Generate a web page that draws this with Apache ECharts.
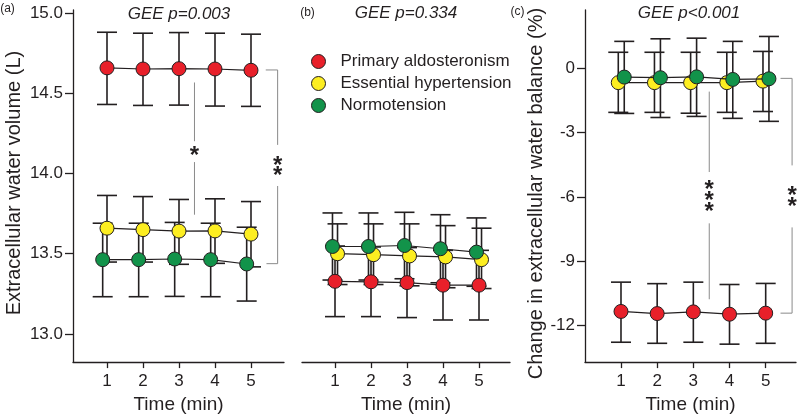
<!DOCTYPE html>
<html>
<head>
<meta charset="utf-8">
<script src="https://cdn.jsdelivr.net/npm/echarts@6/dist/echarts.min.js"></script>
<style>
html,body{margin:0;padding:0;background:#fff;}
#chart{width:800px;height:419px;}
</style>
</head>
<body>
<div id="chart"></div>
<script>
// ---------- data ----------
const times = [1, 2, 3, 4, 5];
const groupNames = ['Primary aldosteronism', 'Essential hypertension', 'Normotension'];
const groupColors = ['#e8202a', '#fdee21', '#12934a'];

// Panel (a): Extracellular water volume (L)
const paA_mean = [14.658, 14.651, 14.653, 14.651, 14.643];
const paA_low  = [14.430, 14.424, 14.426, 14.420, 14.418];
const paA_high = [14.880, 14.874, 14.878, 14.874, 14.868];
const ehA_mean = [13.659, 13.650, 13.641, 13.642, 13.622];
const ehA_low  = [13.448, 13.448, 13.434, 13.440, 13.418];
const ehA_high = [13.863, 13.856, 13.838, 13.842, 13.825];
const ntA_mean = [13.463, 13.463, 13.467, 13.463, 13.436];
const ntA_low  = [13.232, 13.232, 13.234, 13.232, 13.205];
const ntA_high = [13.690, 13.690, 13.695, 13.690, 13.665];

// Panel (b)
const paB_mean = [13.328, 13.325, 13.320, 13.304, 13.304];
const paB_low  = [13.108, 13.108, 13.102, 13.087, 13.087];
const paB_high = [13.548, 13.542, 13.538, 13.521, 13.521];
const ehB_mean = [13.500, 13.494, 13.486, 13.480, 13.463];
const ehB_low  = [13.308, 13.308, 13.300, 13.288, 13.283];
const ehB_high = [13.686, 13.686, 13.686, 13.675, 13.659];
const ntB_mean = [13.545, 13.545, 13.551, 13.531, 13.510];
const ntB_low  = [13.336, 13.336, 13.344, 13.319, 13.297];
const ntB_high = [13.754, 13.754, 13.758, 13.743, 13.723];

// Panel (c): Change in extracellular water balance (%)
const paC_mean = [-11.36, -11.46, -11.38, -11.49, -11.44];
const paC_low  = [-12.80, -12.85, -12.80, -12.89, -12.85];
const paC_high = [-9.99, -10.06, -9.99, -10.10, -10.05];
const ehC_mean = [-0.66, -0.66, -0.66, -0.66, -0.59];
const ehC_low  = [-2.05, -2.05, -2.09, -2.05, -2.01];
const ehC_high = [0.76, 0.76, 0.76, 0.76, 0.80];
const ntC_mean = [-0.40, -0.43, -0.39, -0.51, -0.48];
const ntC_low  = [-2.10, -2.29, -2.24, -2.33, -2.47];
const ntC_high = [1.27, 1.39, 1.42, 1.27, 1.50];

// small horizontal dodge of groups (time units)
const dodgeA = [0, 0, -0.12];
const dodgeB = [0, 0.07, -0.07];
const dodgeC = [0, -0.075, 0.09];

// tick labels
const yTicksA = [13.0, 13.5, 14.0, 14.5, 15.0];
const yTicksC = [0, -3, -6, -9, -12];

// significance annotations: segments [x1, y1, x2, y2] and stars [x, yCenter, count]
const sigLinesA = [
  [3.43, 14.567, 3.43, 14.201], [3.43, 14.071, 3.43, 13.743],
  [5.41, 14.645, 5.74, 14.645], [5.74, 14.645, 5.74, 14.178],
  [5.74, 13.922, 5.74, 13.438], [5.74, 13.438, 5.43, 13.438]
];
const sigStarsA = [[3.43, 14.140, 1], [5.74, 14.043, 2]];
const sigLinesC = [
  [3.44, -1.08, 3.44, -4.84], [3.44, -7.24, 3.44, -10.79],
  [5.41, -0.46, 5.73, -0.46], [5.73, -0.46, 5.73, -4.53],
  [5.73, -7.43, 5.73, -11.44], [5.73, -11.44, 5.41, -11.44]
];
const sigStarsC = [[3.44, -5.98, 3], [5.73, -5.98, 2]];

const panels = [
  { means: [paA_mean, ehA_mean, ntA_mean], lows: [paA_low, ehA_low, ntA_low], highs: [paA_high, ehA_high, ntA_high], dodge: dodgeA },
  { means: [paB_mean, ehB_mean, ntB_mean], lows: [paB_low, ehB_low, ntB_low], highs: [paB_high, ehB_high, ntB_high], dodge: dodgeB },
  { means: [paC_mean, ehC_mean, ntC_mean], lows: [paC_low, ehC_low, ntC_low], highs: [paC_high, ehC_high, ntC_high], dodge: dodgeC }
];

// ---------- styling ----------
const INK = '#231f20';
const FONT = '"Liberation Sans", Arial, sans-serif';

const chart = echarts.init(document.getElementById('chart'), null, { renderer: 'canvas' });

function xAxisDef(idx, min, max) {
  return {
    type: 'value', gridIndex: idx, min: min, max: max,
    name: 'Time (min)', nameLocation: 'middle', nameGap: 25,
    nameTextStyle: { fontSize: 19, color: INK, fontFamily: FONT },
    axisLine: { show: true, onZero: false, lineStyle: { color: INK, width: 1.3 } },
    axisTick: { show: true, length: 6, customValues: times, lineStyle: { color: INK, width: 1.3 } },
    axisLabel: { customValues: times, fontSize: 17, color: INK, fontFamily: FONT, margin: 11 },
    splitLine: { show: false }
  };
}

const grids = [
  { left: 73, top: 10, width: 211, height: 354 },
  { left: 302, top: 10, width: 208, height: 354 },
  { left: 585, top: 10, width: 211, height: 355 }
];

const xAxes = [
  xAxisDef(0, 0.0556, 5.9167),
  xAxisDef(1, 0.0833, 5.861),
  xAxisDef(2, 0.005, 5.838)
];

const yAxes = [
  {
    type: 'value', gridIndex: 0, min: 12.8246, max: 15.0186,
    name: 'Extracellular water volume (L)', nameLocation: 'middle', nameGap: 49,
    nameTextStyle: { fontSize: 20, color: INK, fontFamily: FONT, padding: [0, 0, 0, 6] },
    axisLine: { show: true, onZero: false, lineStyle: { color: INK, width: 1.3 } },
    axisTick: { show: true, length: 8, customValues: yTicksA, lineStyle: { color: INK, width: 1.3 } },
    axisLabel: { customValues: yTicksA, fontSize: 17, color: INK, fontFamily: FONT, margin: 10,
      formatter: v => Number(v).toFixed(1) },
    splitLine: { show: false }
  },
  {
    type: 'value', gridIndex: 1, min: 12.8246, max: 15.0186,
    axisLine: { show: false, onZero: false }, axisTick: { show: false }, axisLabel: { show: false }, splitLine: { show: false }
  },
  {
    type: 'value', gridIndex: 2, min: -13.729, max: 2.737,
    name: 'Change in extracellular water balance (%)', nameLocation: 'middle', nameGap: 36,
    nameTextStyle: { fontSize: 20, color: INK, fontFamily: FONT, padding: [0, 15, 0, 0] },
    axisLine: { show: true, onZero: false, lineStyle: { color: INK, width: 1.3 } },
    axisTick: { show: true, length: 8, customValues: yTicksC, lineStyle: { color: INK, width: 1.3 } },
    axisLabel: { customValues: yTicksC, fontSize: 17, color: INK, fontFamily: FONT, margin: 10,
      formatter: v => String(v) },
    splitLine: { show: false }
  }
];

function errorRender(params, api) {
  const x = api.value(0);
  const lo = api.coord([x, api.value(1)]);
  const hi = api.coord([x, api.value(2)]);
  const w = 10;
  const st = { stroke: INK, lineWidth: 1.6 };
  return {
    type: 'group',
    children: [
      { type: 'line', shape: { x1: lo[0], y1: lo[1], x2: hi[0], y2: hi[1] }, style: st },
      { type: 'line', shape: { x1: hi[0] - w, y1: hi[1], x2: hi[0] + w, y2: hi[1] }, style: st },
      { type: 'line', shape: { x1: lo[0] - w, y1: lo[1], x2: lo[0] + w, y2: lo[1] }, style: st }
    ]
  };
}

function segRender(params, api) {
  const a = api.coord([api.value(0), api.value(1)]);
  const b = api.coord([api.value(2), api.value(3)]);
  return { type: 'line', shape: { x1: a[0], y1: a[1], x2: b[0], y2: b[1] }, style: { stroke: '#8a8a8a', lineWidth: 1 } };
}

function starRender(spacing) {
  return function (params, api) {
    const c = api.coord([api.value(0), api.value(1)]);
    const n = api.value(2);
    const kids = [];
    for (let i = 0; i < n; i++) {
      const dy = (i - (n - 1) / 2) * spacing;
      kids.push({
        type: 'text', x: c[0], y: c[1] + dy + 5,
        style: { text: '*', fill: INK, font: 'bold 24px ' + FONT, textAlign: 'center', textVerticalAlign: 'middle' }
      });
    }
    return { type: 'group', children: kids };
  };
}

const series = [];
panels.forEach((p, pi) => {
  [0, 1, 2].forEach(g => {
    series.push({
      type: 'custom', xAxisIndex: pi, yAxisIndex: pi, z: 1, silent: true,
      renderItem: errorRender,
      encode: { x: 0, y: [1, 2] },
      data: times.map((t, i) => [t + p.dodge[g], p.lows[g][i], p.highs[g][i]])
    });
  });
  [0, 1, 2].forEach(g => {
    series.push({
      type: 'line', name: groupNames[g], xAxisIndex: pi, yAxisIndex: pi, z: 3 + g,
      symbol: 'circle', symbolSize: 14, showSymbol: true,
      itemStyle: { color: groupColors[g], borderColor: INK, borderWidth: 1 },
      lineStyle: { color: INK, width: 1.2 },
      emphasis: { disabled: true },
      animation: false,
      data: times.map((t, i) => [t + p.dodge[g], p.means[g][i]])
    });
  });
});

series.push({ type: 'custom', xAxisIndex: 0, yAxisIndex: 0, z: 2, silent: true, renderItem: segRender, encode: { x: [0, 2], y: [1, 3] }, data: sigLinesA });
series.push({ type: 'custom', xAxisIndex: 0, yAxisIndex: 0, z: 2, silent: true, renderItem: starRender(10), encode: { x: 0, y: 1 }, data: sigStarsA });
series.push({ type: 'custom', xAxisIndex: 2, yAxisIndex: 2, z: 2, silent: true, renderItem: segRender, encode: { x: [0, 2], y: [1, 3] }, data: sigLinesC });
series.push({ type: 'custom', xAxisIndex: 2, yAxisIndex: 2, z: 2, silent: true, renderItem: starRender(11), encode: { x: 0, y: 1 }, data: sigStarsC });

const txt = (text, x, y, size, style) => ({
  type: 'text', x: x, y: y, silent: true,
  style: { text: text, fill: INK, font: (style || '') + ' ' + size + 'px ' + FONT, textAlign: 'center', textVerticalAlign: 'middle' }
});

const option = {
  animation: false,
  backgroundColor: '#fff',
  grid: grids,
  xAxis: xAxes,
  yAxis: yAxes,
  legend: {
    data: groupNames, orient: 'vertical', left: 306, top: 48,
    icon: 'circle', itemWidth: 14, itemHeight: 14, itemGap: 5,
    itemStyle: { borderColor: INK, borderWidth: 1 },
    textStyle: { fontSize: 17, color: INK, fontFamily: FONT, padding: [0, 0, 0, 10] },
    selectedMode: false
  },
  graphic: [
    txt('(a)', 7.5, 8.5, 12),
    txt('(b)', 307.5, 12.5, 12),
    txt('(c)', 517.5, 11.5, 12),
    txt('GEE p=0.003', 179, 14, 17, 'italic'),
    txt('GEE p=0.334', 406, 13.5, 17, 'italic'),
    txt('GEE p<0.001', 689, 13.5, 17, 'italic')
  ],
  series: series
};

chart.setOption(option);
</script>
</body>
</html>
